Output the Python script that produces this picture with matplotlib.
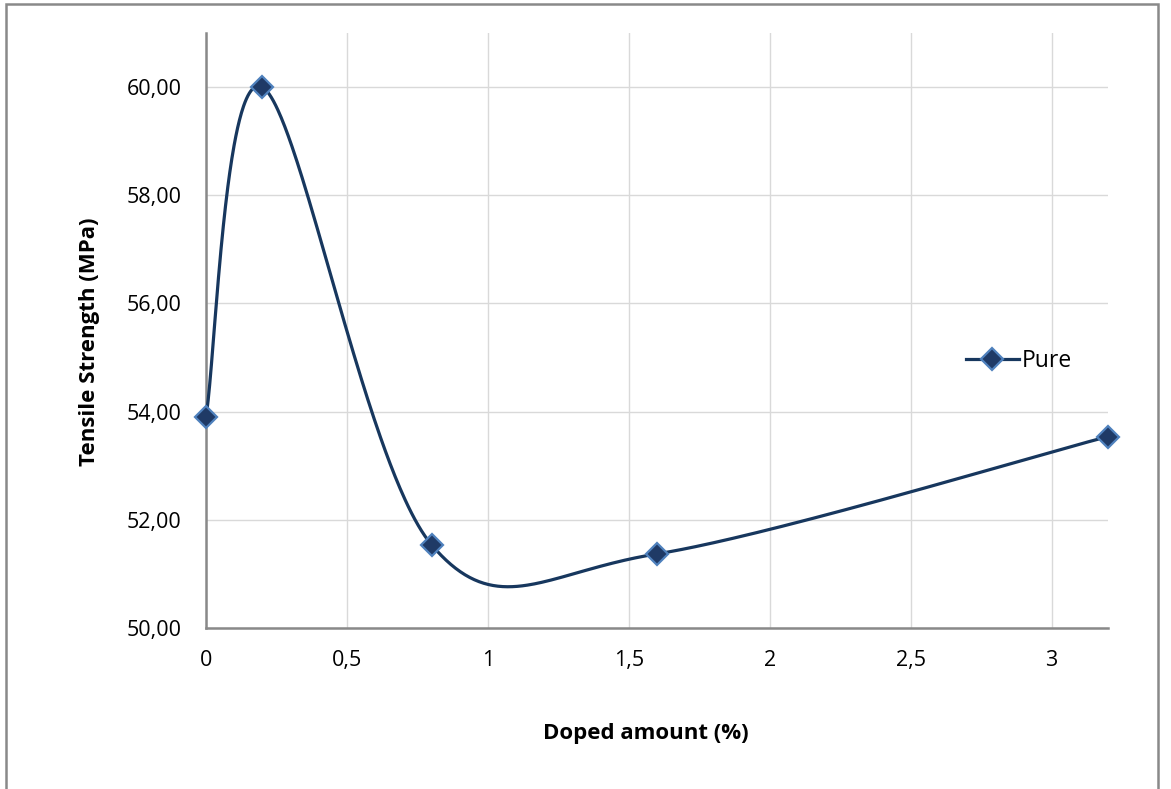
import numpy as np
import matplotlib
matplotlib.use("Agg")
import matplotlib.pyplot as plt
from matplotlib.patches import Rectangle

# ---- data ----
doped = [0, 0.2, 0.8, 1.6, 3.2]
strength = [53.91, 60.00, 51.54, 51.37, 53.54]
series_name = "Pure"
y_ticks = [50, 52, 54, 56, 58, 60]
x_ticks = [0, 0.5, 1, 1.5, 2, 2.5, 3]

plt.rcParams['font.family'] = ['Open Sans', 'DejaVu Sans']

W, H = 1171, 789
fig = plt.figure(figsize=(W / 100, H / 100), dpi=100)
ax = fig.add_axes([206 / W, 1 - 628 / H, (1108 - 206) / W, (628 - 33) / H])

ax.set_xlim(0, 3.2)
ax.set_ylim(50, 61)

line_col = '#17375E'
face_col = '#1F3A66'
edge_col = '#4F81BD'

# Excel-like smoothed line (Catmull-Rom Bezier in display space)
fig.canvas.draw()
tr = ax.transData
pts = tr.transform(np.column_stack([doped, strength]))
n = len(pts)
curve = []
for i in range(n - 1):
    p0 = pts[max(i - 1, 0)]
    p1 = pts[i]
    p2 = pts[i + 1]
    p3 = pts[min(i + 2, n - 1)]
    c1 = p1 + (p2 - p0) / 6.0
    c2 = p2 - (p3 - p1) / 6.0
    t = np.linspace(0, 1, 120)[:, None]
    b = ((1 - t) ** 3) * p1 + 3 * ((1 - t) ** 2) * t * c1 + 3 * (1 - t) * t ** 2 * c2 + t ** 3 * p2
    curve.append(b if i == 0 else b[1:])
curve = np.vstack(curve)
cd = tr.inverted().transform(curve)
ax.plot(cd[:, 0], cd[:, 1], color=line_col, lw=2.3, solid_capstyle='round',
        zorder=3, clip_on=False)
ax.plot(doped, strength, linestyle='none', marker='D', markersize=11.5,
        markerfacecolor=face_col, markeredgecolor=edge_col, markeredgewidth=1.6,
        zorder=4, clip_on=False)

# legend proxy
ax.plot([], [], color=line_col, lw=2.3, marker='D', markersize=11.5,
        markerfacecolor=face_col, markeredgecolor=edge_col, markeredgewidth=1.6, label=series_name)
leg = ax.legend(loc='center left', bbox_to_anchor=(966 / W, 1 - 361 / H),
                bbox_transform=fig.transFigure, frameon=False, fontsize=16.5,
                handlelength=2.3, handletextpad=0.15, borderpad=0, borderaxespad=0)

ax.set_yticks(y_ticks)
ax.set_yticklabels([f"{v:.2f}".replace('.', ',') for v in y_ticks])
ax.set_xticks(x_ticks)
ax.set_xticklabels([(f"{v:g}").replace('.', ',') for v in x_ticks])
ax.tick_params(length=0, labelsize=15.5, colors='black')
ax.tick_params(axis='x', pad=16)
ax.tick_params(axis='y', pad=17.5)

ax.grid(True, color='#D9D9D9', lw=1)
ax.set_axisbelow(True)
for s in ['top', 'right']:
    ax.spines[s].set_visible(False)
for s in ['left', 'bottom']:
    ax.spines[s].set_color('#898989')
    ax.spines[s].set_linewidth(1.8)

fig.text(646 / W, 1 - 733 / H, "Doped amount (%)", ha='center', va='center',
         fontsize=16, fontweight='bold')
fig.text(89 / W, 1 - 342 / H, "Tensile Strength (MPa)", ha='center', va='center',
         rotation=90, fontsize=16, fontweight='bold')

# outer chart frame
fig.patches.append(Rectangle((6 / W, -0.05), (1158 - 6) / W, 1 - 4 / H + 0.05,
                             transform=fig.transFigure, fill=False,
                             edgecolor='#898989', lw=1.8))

fig.savefig("out.png", dpi=100)
